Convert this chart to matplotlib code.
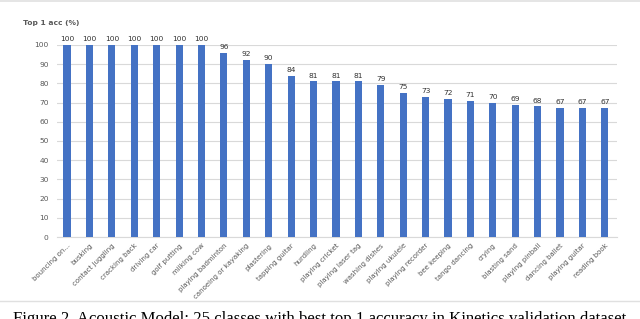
import numpy as np
import matplotlib
matplotlib.use("Agg")
import matplotlib.pyplot as plt
from matplotlib.lines import Line2D

classes = ["bouncing on...", "busking", "contact juggling", "cracking back", "driving car",
           "golf putting", "milking cow", "playing badminton", "canoeing or kayaking",
           "plastering", "tapping guitar", "hurdling", "playing cricket", "playing laser tag",
           "washing dishes", "playing ukulele", "playing recorder", "bee keeping",
           "tango dancing", "crying", "blasting sand", "playing pinball", "dancing ballet",
           "playing guitar", "reading book"]
acc = [100, 100, 100, 100, 100, 100, 100, 96, 92, 90, 84, 81, 81, 81, 79, 75, 73, 72,
       71, 70, 69, 68, 67, 67, 67]
yticks = [0, 10, 20, 30, 40, 50, 60, 70, 80, 90, 100]
caption = "Figure 2. Acoustic Model: 25 classes with best top 1 accuracy in Kinetics validation dataset"

fig = plt.figure(figsize=(6.4, 3.19), dpi=100)
ax = fig.add_axes([0.089, 0.257, 0.875, 0.602])

x = np.arange(len(classes))
bars = ax.bar(x, acc, width=0.32, color="#4472C4", zorder=3)
for xi, v in zip(x, acc):
    ax.text(xi, v + 1.5, str(v), ha="center", va="bottom", fontsize=5.4,
            color="#333333", clip_on=False)

ax.set_xlim(-0.45, len(classes) - 0.46)
ax.set_ylim(0, 100)
ax.set_yticks(yticks)
ax.yaxis.grid(True, color="#d9d9d9", linewidth=0.8, zorder=0)
ax.tick_params(axis="y", length=0, labelsize=5.4, labelcolor="#595959", pad=6)
ax.set_xticks(x)
ax.set_xticklabels(classes, rotation=45, ha="right", rotation_mode="anchor",
                   fontsize=5, color="#595959")
ax.tick_params(axis="x", length=0, pad=4)
for s in ["top", "right", "left"]:
    ax.spines[s].set_visible(False)
ax.spines["bottom"].set_color("#d9d9d9")
ax.spines["bottom"].set_linewidth(0.8)

fig.text(23 / 640, 1 - 23 / 319, "Top 1 acc (%)", fontsize=5.4, color="#595959",
         fontweight="bold", va="center", ha="left")

# page decorations around the figure
fig.add_artist(Line2D([0, 1], [0.998, 0.998], color="#e0e0e0", linewidth=1.2))
fig.add_artist(Line2D([0, 1], [1 - 301 / 319] * 2, color="#e0e0e0", linewidth=1.0))
fig.text(0.5, 1 - 311 / 319, caption, family="Liberation Serif", fontsize=12.1,
         color="black", ha="center", va="top")

fig.savefig("out.png", dpi=100)
